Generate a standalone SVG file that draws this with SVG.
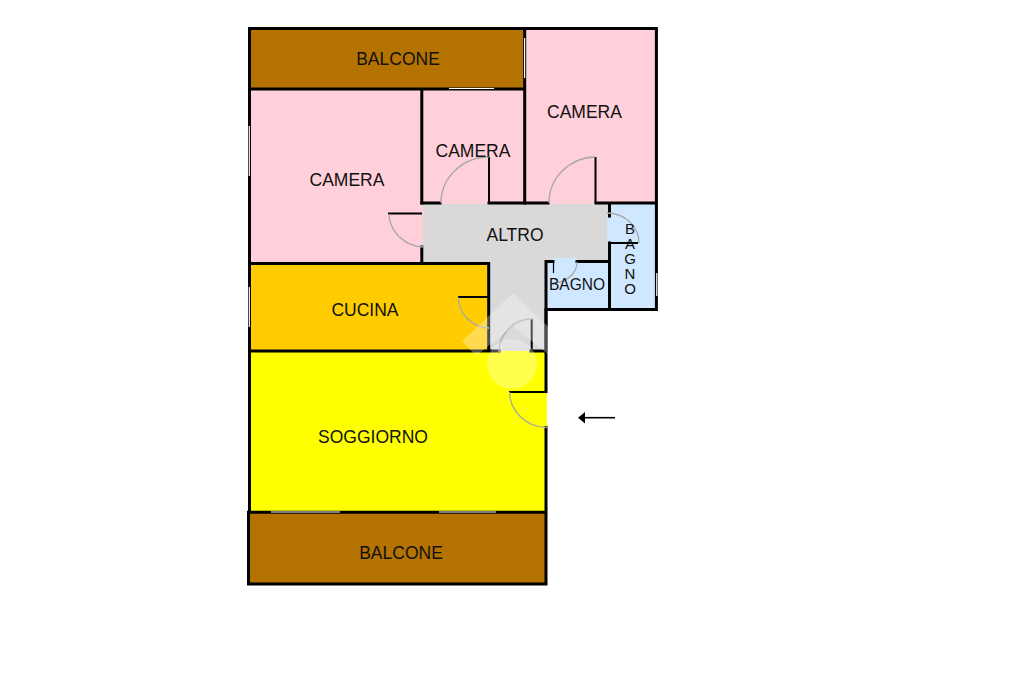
<svg xmlns="http://www.w3.org/2000/svg" width="1024" height="682" viewBox="0 0 1024 682">
<style>
text{font-family:"Liberation Sans",Arial,sans-serif;font-size:17.5px;fill:#111;text-anchor:middle}
.w{stroke:#000;stroke-width:3;fill:none;stroke-linecap:square}
.t{stroke:#000;stroke-width:2;fill:none}
.d{stroke:#a8a8a8;stroke-width:1.3;fill:none}
.g{stroke:#fff;stroke-width:1.2;fill:none}
</style>
<rect width="1024" height="682" fill="#fff"/>
<g id="rooms">
<rect id="balcone-top" x="250" y="29" width="275" height="60" fill="#b47300"/>
<rect id="camera-left" x="250" y="89" width="173" height="175" fill="#ffcfda"/>
<rect id="camera-mid" x="422" y="89" width="103" height="115" fill="#ffcfda"/>
<rect id="camera-right" x="525" y="29" width="131" height="175" fill="#ffcfda"/>
<path id="altro" d="M423 204H608V262H546V352H489V264H423Z" fill="#d9d9d9"/>
<rect id="cucina" x="250" y="264" width="239" height="88" fill="#ffcc00"/>
<path id="soggiorno" d="M250 351H545V392H547V428H545V513H250Z" fill="#ffff00"/>
<rect id="balcone-bottom" x="249" y="513" width="296" height="71" fill="#b47300"/>
<path id="bagno-right" d="M609 203H656V309H610V243H607V216H609Z" fill="#d0e8ff"/>
<path id="bagno-small" d="M546 262H553V258H577V262H610V309H546Z" fill="#d0e8ff"/>
</g>
<g id="connectors">
<path class="w" d="M249.500 28.500H656.400V309.500H546V391.500M546 427.500V584H248.500V512.300H545.500M249.500 512V28.500M250 89H524.700M524.700 29V203M421.800 89V203M421.800 247V263.600M250 263.600H488.700V351M250 351H499M531 351H546"/>
<path class="w" d="M422 203H440M489 203H548M596 203H656M609.500 203V216M609.500 243V309M546 262V351M546 261.500H553M577 261.500H609.500"/>
<path class="t" d="M388 213.500H422M458 297H488M489 157V203M595.500 157V203M609 243H638"/>
<path class="t" d="M531.700 319V351M509 392H546"/>
<path d="M553.500 262V273" stroke="#000" stroke-width="1.2" fill="none"/>
<path class="d" d="M441 203A48 46 0 0 1 489 157M549 203A47 46 0 0 1 595 157M389 214A36 34 0 0 0 423 247M458 297A31 33 0 0 0 489 328M499 352A33 33 0 0 1 532 319M509.500 392A38 36 0 0 0 547 427.500M607 213A32 30 0 0 1 639 243M577 262A24 21 0 0 1 553 283"/>
<path class="g" d="M249.300 126V176M249.300 287V327M524.600 38V78M449 88.500H494M271 512H340M439 512H496M656.800 273V296"/>
</g>
<g id="entry-arrow">
<path d="M585 417.700H615" stroke="#000" stroke-width="1.6"/>
<path d="M578 417.700L585 412V423.500Z" fill="#000"/>
</g>
<g id="watermark" fill="#fff" opacity=".3">
<path d="M513 293L563 341L549 355L513 326L476 356L462 341Z"/>
<circle cx="512" cy="364" r="25"/>
</g>
<g id="labels">
<text x="398" y="64.500">BALCONE</text>
<text x="584.500" y="117.500">CAMERA</text>
<text x="473" y="156.500">CAMERA</text>
<text x="347" y="185.500">CAMERA</text>
<text x="515" y="240.500">ALTRO</text>
<text x="365" y="315.500">CUCINA</text>
<text x="373" y="442.500">SOGGIORNO</text>
<text x="401" y="558.500">BALCONE</text>
<text x="577" y="290" style="font-size:16px" textLength="56" lengthAdjust="spacingAndGlyphs">BAGNO</text>
<text style="font-size:15px"><tspan x="630" y="233.500">B</tspan><tspan x="630" y="248.500">A</tspan><tspan x="630" y="263.500">G</tspan><tspan x="630" y="278.500">N</tspan><tspan x="630" y="293.500">O</tspan></text>
</g>
</svg>
